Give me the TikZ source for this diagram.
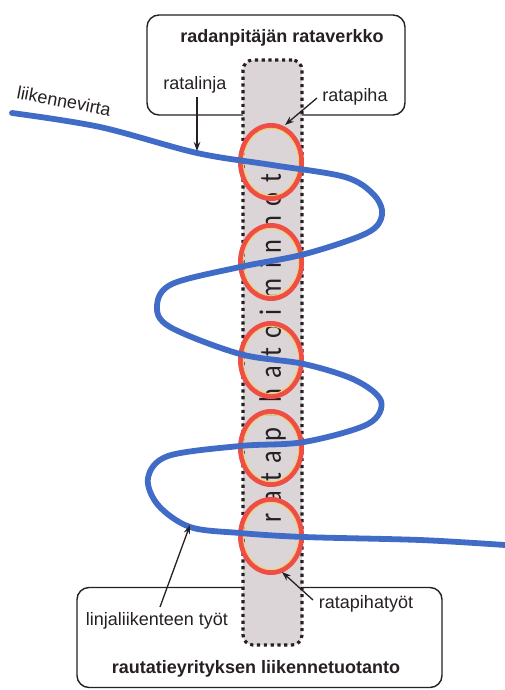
\documentclass[tikz,border=0pt]{standalone}
\usepackage{fontspec}
\setmainfont{Liberation Sans}
\newfontfamily\yardfont[LetterSpace=31,FakeStretch=0.85]{Carlito}
\usetikzlibrary{shapes.geometric,arrows.meta}
\definecolor{flowblue}{RGB}{64,108,200}
\definecolor{yardred}{RGB}{238,78,70}
\definecolor{yardhalo}{RGB}{246,205,95}
\definecolor{yardgray}{RGB}{219,213,216}
\definecolor{inkdark}{RGB}{38,32,36}
\begin{document}
\begin{tikzpicture}[x=1pt,y=-1pt,
  areabox/.style={draw=inkdark, line width=1.4pt, rounded corners=12pt, inner sep=0},
  boxtitle/.style={font=\bfseries\fontsize{18}{20}\selectfont, text=inkdark, anchor=base, inner sep=0},
  tag/.style={font=\fontsize{18}{20}\selectfont, text=inkdark, anchor=base, inner sep=0},
  pointer/.style={draw=inkdark, line width=1.3pt, -{Stealth[length=9pt,width=6.5pt]}},
  column/.style={draw=inkdark, fill=yardgray, line width=3.2pt, dash pattern=on 3.2pt off 3.6pt,
    rounded corners=10pt, inner sep=0},
  yardring/.style={ellipse, draw=yardred, line width=5pt, minimum width=61pt, minimum height=73pt, inner sep=0},
  yardhaloring/.style={ellipse, draw=yardhalo, line width=0.9pt, minimum width=55.5pt, minimum height=67.5pt, inner sep=0},
  flow/.style={draw=flowblue, line width=5.8pt, line cap=round}
]
\useasboundingbox (0,0) rectangle (505,690);

% operator's network and the operator's traffic production
\node[areabox, minimum width=258pt, minimum height=100pt] (network) at (276,65) {};
\node[areabox, minimum width=365pt, minimum height=100pt] (production) at (259.5,637.5) {};
\node[boxtitle] (networktitle) at (282,43) {radanpitäjän rataverkko};
\node[boxtitle] (productiontitle) at (256,673) {rautatieyrityksen liikennetuotanto};

% yard operations column
\node[column, minimum width=59pt, minimum height=585pt] (yardops) at (272.5,352.5) {};
\node[rotate=90, font=\yardfont\fontsize{31}{31}\selectfont, text=inkdark, inner sep=0] (yardopstext) at (272.5,348) {ratapihatoiminnot};

% yards
\foreach \i/\y in {1/162,2/262,3/360,4/448,5/536}{
  \node[yardring] (yard\i) at (271,\y) {};
  \node[yardhaloring] (halo\i) at (yard\i) {};
}

% traffic flow winding through the yards
\coordinate (flowstart) at (12,113);
\coordinate (flowend) at (505,545);
\draw[flow] plot[smooth, tension=0.55] coordinates {
  (12,113) (100,127) (197,153) (272,165) (345,177) (374,195) (382,215) (367,233)
  (305,254) (240,267) (172,284) (157,306) (170,327) (240,354) (304,364) (355,380)
  (381,401) (368,424) (304,442) (240,446) (168,456) (148,478) (158,505) (190,527)
  (240,533) (304,537) (420,540) (505,545)};

% labels and pointers
\node[tag, rotate=-11, anchor=center] (flowlabel) at (64,101) {liikennevirta};
\node[tag] (linelabel) at (195,90) {ratalinja};
\node[tag] (yardlabel) at (355,102) {ratapiha};
\node[tag] (lineworklabel) at (157,625) {linjaliikenteen työt};
\node[tag] (yardworklabel) at (366,608) {ratapihatyöt};

\coordinate (linetip) at (197,151);
\coordinate (yardtip) at (285,125);
\coordinate (lineworktip) at (190,525);
\coordinate (yardworktip) at (282,572);

\draw[pointer] (197,97) -- (linetip);
\draw[pointer] (317,98) -- (yardtip);
\draw[pointer] (160,607) -- (lineworktip);
\draw[pointer] (313,600) -- (yardworktip);
\end{tikzpicture}
\end{document}
